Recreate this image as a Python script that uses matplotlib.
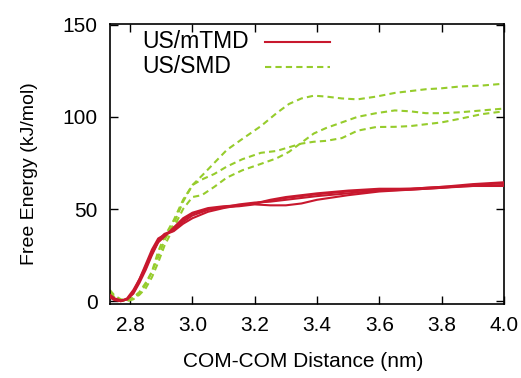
import matplotlib
matplotlib.use("Agg")
import matplotlib.pyplot as plt

plt.rcParams['font.family'] = ['Liberation Sans', 'DejaVu Sans']

# US/mTMD runs (red, solid)
x_red = [2.735, 2.75, 2.77, 2.79, 2.81, 2.83, 2.85, 2.87, 2.89, 2.91, 2.94, 2.97, 3.0,
         3.05, 3.1, 3.15, 3.2, 3.25, 3.3, 3.35, 3.4, 3.5, 3.6, 3.7, 3.8, 3.9, 4.0]
red_runs = [
    [3, 1, 0, 1, 5, 12, 20, 28, 34, 36, 38, 42, 45, 48.5, 50.5, 52, 53, 54.5, 56, 57, 58, 59.5, 60.5, 61, 62, 63.5, 64.5],
    [2, 0.5, 0, 1, 4, 10, 17, 25, 32, 35.5, 39, 44, 47.5, 50, 51, 51.5, 52.5, 52, 52, 53, 55, 57.5, 59.5, 60.5, 61.5, 62.5, 63],
    [2.5, 1, 0, 1.5, 6, 12, 19, 26, 32, 35, 40, 45, 48, 50.5, 51.5, 52, 53, 55, 56.5, 57.5, 58.5, 60, 61, 61, 62, 62.5, 62.5],
    [3.5, 1.5, 0.5, 1, 4.5, 11, 18, 26, 33, 36.5, 38.5, 43, 46.5, 49.5, 51, 52.5, 53.5, 54, 55, 56, 57, 58.5, 60, 60.5, 61.5, 63, 64],
]

# US/SMD runs (green, dashed)
x_green = [2.735, 2.75, 2.77, 2.79, 2.81, 2.83, 2.85, 2.87, 2.89, 2.91, 2.94, 2.97, 3.0,
           3.03, 3.07, 3.11, 3.16, 3.22, 3.27, 3.31, 3.35, 3.39, 3.43, 3.48, 3.53, 3.59,
           3.65, 3.7, 3.75, 3.8, 3.86, 3.93, 4.0]
green_runs = [
    [5, 2, 0.5, 0, 1.5, 4, 9, 16, 27, 35, 44, 55, 63, 68, 75, 82, 88, 95, 102, 107, 110,
     111.5, 111, 110, 109.5, 111, 113, 114, 115, 115.5, 116.5, 117, 118],
    [4, 2, 0.5, 0, 1, 3.5, 7, 13, 21, 30, 40, 50, 56.5, 57.5, 62, 67, 71, 74.5, 77.5, 81,
     86, 91, 94, 97, 100, 102, 103.5, 103, 102, 102, 102.5, 103.5, 104.5],
    [6, 3, 1, 0.5, 2, 5, 10, 16, 24, 33, 42, 54, 63, 66, 69, 73, 77, 80.5, 81.5, 83.5,
     85.5, 86.5, 87, 88.5, 92.5, 94.5, 94.6, 95, 96, 97, 99, 101.5, 103],
]

x_ticks = [2.8, 3.0, 3.2, 3.4, 3.6, 3.8, 4.0]
y_ticks = [0, 50, 100, 150]

red = '#c8182e'
green = '#96cc2c'

fig = plt.figure(figsize=(5.21, 3.78), dpi=100)
ax = fig.add_axes([0.211, 0.196, 0.756, 0.741])

for y in red_runs:
    ax.plot(x_red, y, color=red, lw=1.5, zorder=3)
for y in green_runs:
    ax.plot(x_green, y, color=green, lw=1.5, dashes=(3, 2), zorder=2)

ax.set_xlim(2.735, 4.0)
ax.set_ylim(-1.5, 150.5)
ax.set_xticks(x_ticks)
ax.set_xticklabels([f"{t:.1f}" for t in x_ticks])
ax.set_yticks(y_ticks)
ax.tick_params(direction='in', length=6, width=1, top=True, right=True,
               labelsize=15, pad=9)
for s in ax.spines.values():
    s.set_linewidth(1.2)

ax.set_xlabel("COM-COM Distance (nm)", fontsize=15)
ax.set_ylabel("Free Energy (kJ/mol)", fontsize=14)
ax.yaxis.set_label_coords(-0.182, 0.465)
ax.xaxis.set_label_coords(0.49, -0.17)

# gnuplot-style key: text left, sample line right
ax.text(0.081, 0.936, "US/mTMD", transform=ax.transAxes, fontsize=16.5, va='center')
ax.plot([0.393, 0.558], [0.936, 0.936], transform=ax.transAxes, color=red, lw=1.5)
ax.text(0.081, 0.846, "US/SMD", transform=ax.transAxes, fontsize=16.5, va='center')
ax.plot([0.393, 0.558], [0.846, 0.846], transform=ax.transAxes, color=green, lw=1.5,
        dashes=(3, 2))

fig.savefig("out.png", dpi=100)
